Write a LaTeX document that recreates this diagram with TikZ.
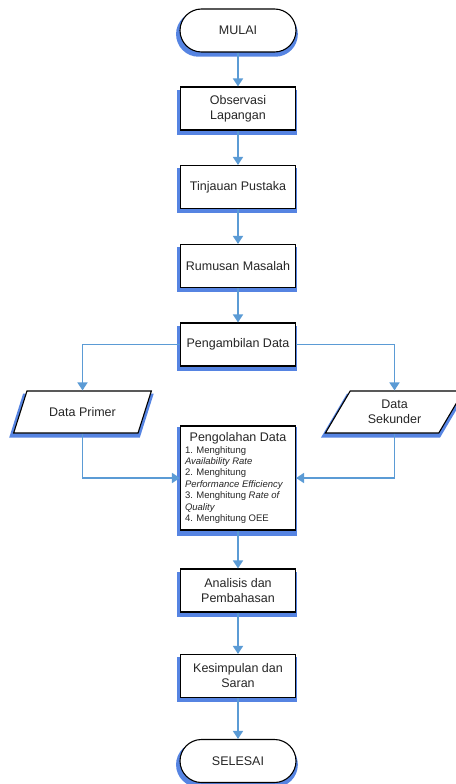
\documentclass[tikz,border=0pt]{standalone}
\usepackage{fontspec}
\setmainfont{Liberation Sans}
\usetikzlibrary{shapes.geometric,shadows,arrows.meta}
\definecolor{linkblue}{RGB}{91,155,213}
\definecolor{shadeblue}{RGB}{86,132,226}

\begin{document}
\begin{tikzpicture}[x=1pt, y=1pt,
  every node/.style = {draw=black, line width=1.1pt, fill=white,
    align=center, text=black!85, font=\fontsize{12.5}{15}\selectfont,
    drop shadow={shadow xshift=-1pt, shadow yshift=-3.5pt,
      shadow scale=1.05, fill=shadeblue, opacity=1}}]
    \tikzstyle{box}=[rectangle, minimum width=115pt, minimum height=43pt]
    \tikzstyle{term}=[rectangle, rounded corners=21.5pt, minimum width=116pt, minimum height=43pt]
    \tikzstyle{io}=[trapezium, trapezium left angle=61, trapezium right angle=119,
      trapezium stretches=true, minimum width=139pt, minimum height=42pt]
    \tikzstyle{link}=[draw=linkblue, line width=1.6pt, -{Triangle[width=10pt,length=8pt]}]
  \useasboundingbox (0,0) rectangle (455,-784);
  \node[term] (mulai) at (238,-30.5) {MULAI};
  \node[box] (observasi) at (238,-108.5) {Observasi\\Lapangan};
  \node[box] (tinjauan) at (238,-187) {Tinjauan Pustaka};
  \node[box] (rumusan) at (238,-266) {Rumusan Masalah};
  \node[box] (ambil) at (238,-344.5) {Pengambilan Data};
  \node[io] (primer) at (82.5,-412) {Data Primer};
  \node[io] (sekunder) at (394.5,-412) {Data\\Sekunder};
  \node[box, text width=106pt, inner xsep=4pt, minimum height=104pt, align=none] (olah) at (238,-478)
    {\centering Pengolahan Data\par
     \raggedright\fontsize{9.5}{11.4}\selectfont
     1. Menghitung\\ \textit{Availability Rate}\\
     2. Menghitung\\ \textit{Performance Efficiency}\\
     3. Menghitung \textit{Rate of}\\ \textit{Quality}\\
     4. Menghitung OEE\par};
  \node[box] (analisis) at (238,-590.5) {Analisis dan\\Pembahasan};
  \node[box] (simpulan) at (238,-676) {Kesimpulan dan\\Saran};
  \node[term] (selesai) at (238,-761) {SELESAI};
  \draw[link] (mulai) -- (observasi);
  \draw[link] (observasi) -- (tinjauan);
  \draw[link] (tinjauan) -- (rumusan);
  \draw[link] (rumusan) -- (ambil);
  \draw[link] (ambil.west) -| (primer.north);
  \draw[link] (ambil.east) -| (sekunder.north);
  \draw[link] (primer.south) |- (olah.west);
  \draw[link] (sekunder.south) |- (olah.east);
  \draw[link] (olah) -- (analisis);
  \draw[link] (analisis) -- (simpulan);
  \draw[link] (simpulan) -- (selesai);
\end{tikzpicture}
\end{document}
